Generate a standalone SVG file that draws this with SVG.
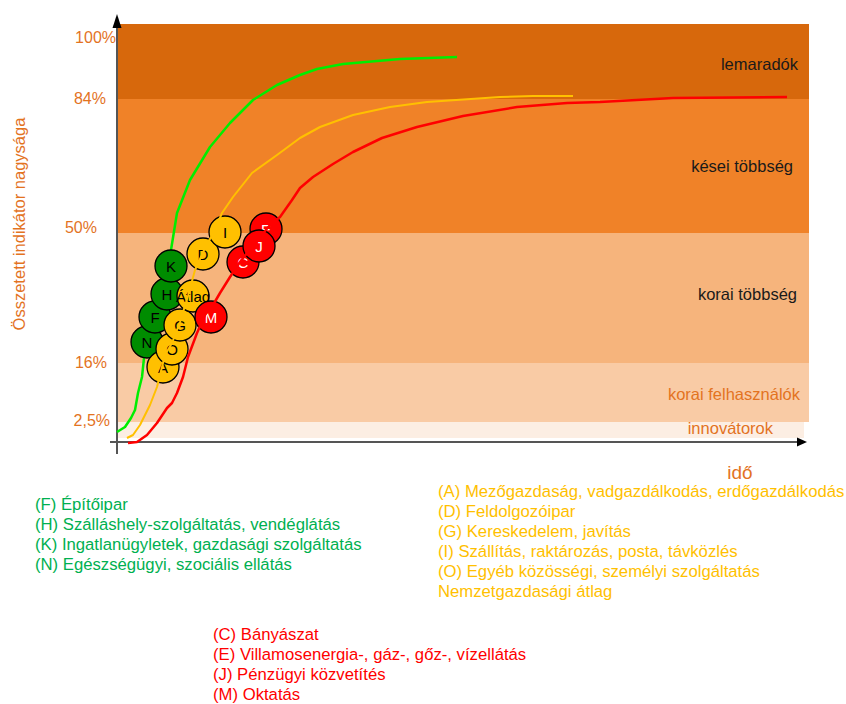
<svg xmlns="http://www.w3.org/2000/svg" width="846" height="704" viewBox="0 0 846 704">
<defs>
<style>
text{font-family:"Liberation Sans",Arial,sans-serif}
.tick{font-size:16px;fill:#E3731F;text-anchor:end}
.band{font-size:16.5px;fill:#1a1a1a;text-anchor:end}
.bando{font-size:16.5px;fill:#E3731F;text-anchor:end}
.leg{font-size:16.7px}
.c{stroke:#000;stroke-width:1.3}
.cg{fill:#008C00}
.cy{fill:#FFC000}
.cr{fill:#FF0000}
.lt{font-size:15px;text-anchor:middle;dominant-baseline:central}
.curve{fill:none;stroke-linejoin:round;stroke-linecap:butt}
</style>
</defs>
<g id="bands">
<rect x="118" y="24" width="691" height="75" fill="#D7680C"/>
<rect x="118" y="99" width="691" height="134" fill="#F08228"/>
<rect x="118" y="233" width="691" height="130" fill="#F6B47C"/>
<rect x="118" y="363" width="691" height="59" fill="#F9CBA5"/>
<rect x="118" y="422" width="686" height="16" fill="#FCEEE3"/>
</g>
<g id="band-labels">
<text class="band" x="798" y="70">lemaradók</text>
<text class="band" x="793" y="172">kései többség</text>
<text class="band" x="797" y="300">korai többség</text>
<text class="bando" x="800" y="400">korai felhasználók</text>
<text class="bando" x="773" y="434">innovátorok</text>
</g>
<g id="axes" stroke="#555" stroke-width="2" fill="#000">
<line x1="117" y1="26" x2="117" y2="454"/>
<line x1="110" y1="442" x2="798" y2="442"/>
<polygon points="117,14 112.5,28 121.5,28" stroke="none"/>
<polygon points="807,442 797,437.5 797,446.5" stroke="none"/>
</g>
<g id="ticks">
<text class="tick" x="116" y="43">100%</text>
<text class="tick" x="106" y="104">84%</text>
<text class="tick" x="97" y="233">50%</text>
<text class="tick" x="107" y="368">16%</text>
<text class="tick" x="110" y="426">2,5%</text>
</g>
<text id="ylabel" transform="translate(25,224) rotate(-90)" font-size="16.5" fill="#E3731F" text-anchor="middle">Összetett indikátor nagysága</text>
<text id="xlabel" x="740" y="479" font-size="19" fill="#E3731F" text-anchor="middle">idő</text>
<g id="connectors">
<polyline id="green-curve" class="curve" stroke="#00EE00" stroke-width="2.5" points="117,432 125,427 131,418 135,410 138,393 142,377 144,358 150,335 158,310 164,290 168,270 171,250 177,213 190,180 210,147 230,123 253,100 277,85 300,75 317,69 343,64 400,59 457,57"/>
</g>
<g id="green-nodes">
<g id="N"><circle class="c cg" cx="147" cy="342" r="16"/><text class="lt" x="147" y="342">N</text></g>
<g id="F"><circle class="c cg" cx="155" cy="317" r="16"/><text class="lt" x="155" y="317">F</text></g>
<g id="H"><circle class="c cg" cx="167" cy="294" r="16"/><text class="lt" x="167" y="294">H</text></g>
<g id="K"><circle class="c cg" cx="171" cy="266" r="16"/><text class="lt" x="171" y="266">K</text></g>
</g>
<g id="yellow-nodes">
<g id="A"><circle class="c cy" cx="163" cy="367" r="16"/><text class="lt" x="163" y="367">A</text></g>
<g id="O"><circle class="c cy" cx="172" cy="349" r="16"/><text class="lt" x="172" y="349">O</text></g>
<g id="G"><circle class="c cy" cx="180" cy="325" r="16"/><text class="lt" x="180" y="325">G</text></g>
<g id="Atlag"><circle class="c cy" cx="193" cy="296" r="16"/><text class="lt" x="193" y="296" font-size="13">Átlag</text></g>
<g id="D"><circle class="c cy" cx="203" cy="254" r="16"/><text class="lt" x="203" y="254">D</text></g>
<g id="I"><circle class="c cy" cx="225" cy="232" r="16"/><text class="lt" x="225" y="232">I</text></g>
</g>
<g id="connectors-2">
<polyline id="yellow-curve" class="curve" stroke="#FFC000" stroke-width="2" points="127,438 133,435 140,425 150,405 157,387 162,367 165,355 172,343 180,322 188,296 195,270 205,248 215,230 222,213 233,197 252,173 277,155 300,138 320,127 353,115 390,107 427,102 500,97 533,96 573,96"/>
</g>
<g id="red-nodes">
<g id="M"><circle class="c cr" cx="211" cy="317" r="16"/><text class="lt" x="211" y="317" fill="#fff">M</text></g>
<g id="C"><circle class="c cr" cx="243" cy="262" r="16"/><text class="lt" x="243" y="262" fill="#fff">C</text></g>
<g id="E"><circle class="c cr" cx="266" cy="229" r="16"/><text class="lt" x="266" y="229" fill="#fff">E</text></g>
<g id="J"><circle class="c cr" cx="259" cy="246" r="16"/><text class="lt" x="259" y="246" fill="#fff">J</text></g>
</g>
<g id="connectors-3">
<polyline id="red-curve" class="curve" stroke="#FF0000" stroke-width="2.5" points="128,443 137,442 147,435 157,423 167,408 172,403 177,393 183,377 188,357 197,333 205,315 213,305 220,293 230,277 240,262 255,243 270,225 280,217 292,200 300,188 313,177 333,164 353,152 382,138 417,127 463,116 517,107 567,103 600,102 673,98 787,97"/>
</g>
<g id="legend-green" class="leg" fill="#00B050">
<text x="35" y="510">(F) Építőipar</text>
<text x="35" y="530">(H) Szálláshely-szolgáltatás, vendéglátás</text>
<text x="35" y="550">(K) Ingatlanügyletek, gazdasági szolgáltatás</text>
<text x="35" y="570">(N) Egészségügyi, szociális ellátás</text>
</g>
<g id="legend-yellow" class="leg" fill="#FFC000">
<text x="438" y="497">(A) Mezőgazdaság, vadgazdálkodás, erdőgazdálkodás</text>
<text x="438" y="517">(D) Feldolgozóipar</text>
<text x="438" y="537">(G) Kereskedelem, javítás</text>
<text x="438" y="557">(I) Szállítás, raktározás, posta, távközlés</text>
<text x="438" y="577">(O) Egyéb közösségi, személyi szolgáltatás</text>
<text x="438" y="597">Nemzetgazdasági átlag</text>
</g>
<g id="legend-red" class="leg" fill="#FF0000">
<text x="213" y="640">(C) Bányászat</text>
<text x="213" y="660">(E) Villamosenergia-, gáz-, gőz-, vízellátás</text>
<text x="213" y="680">(J) Pénzügyi közvetítés</text>
<text x="213" y="699.5">(M) Oktatás</text>
</g>
</svg>
